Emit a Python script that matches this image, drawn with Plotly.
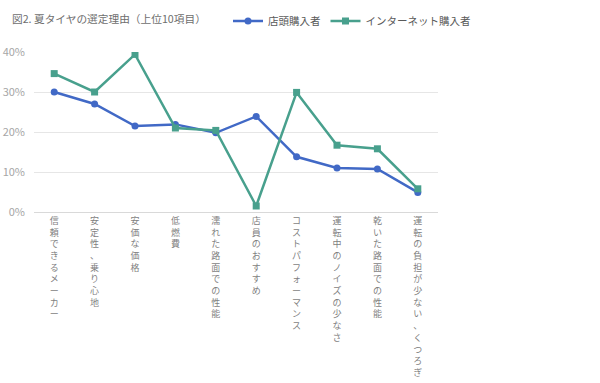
import plotly.graph_objects as go

categories = ["信頼できるメーカー", "安定性、乗り心地", "安価な価格", "低燃費", "濡れた路面での性能",
              "店員のおすすめ", "コストパフォーマンス", "運転中のノイズの少なさ", "乾いた路面での性能",
              "運転の負担が少ない、くつろぎ"]
store = [30.0, 27.0, 21.5, 21.9, 19.8, 23.9, 13.8, 11.0, 10.75, 4.9]
internet = [34.6, 30.0, 39.4, 21.0, 20.4, 1.5, 29.9, 16.7, 15.8, 5.8]
y_ticks = [0, 10, 20, 30, 40]
y_tick_labels = ["0%", "10%", "20%", "30%", "40%"]
title_text = "図2. 夏タイヤの選定理由（上位10項目）"

BLUE = "#4169C6"
GREEN = "#48A08D"
FONT = "Noto Sans CJK JP"

L, R, T, B = 34, 162, 52, 171
W, H = 600, 383
pw, ph = W - L - R, H - T - B

tick_text = ["<br>".join(list(c)) for c in categories]

fig = go.Figure()
fig.add_trace(go.Scatter(x=categories, y=store, name="店頭購入者", mode="lines+markers",
                         line=dict(color=BLUE, width=2.5),
                         marker=dict(symbol="circle", size=7, color=BLUE)))
fig.add_trace(go.Scatter(x=categories, y=internet, name="インターネット購入者", mode="lines+markers",
                         line=dict(color=GREEN, width=2.5),
                         marker=dict(symbol="square", size=7, color=GREEN)))

fig.update_layout(
    width=W, height=H,
    margin=dict(l=L, r=R, t=T, b=B, autoexpand=False),
    paper_bgcolor="white", plot_bgcolor="white",
    font=dict(family=FONT, color="#595959"),
    title=dict(text=title_text, x=12/W, xanchor="left", xref="container",
               y=1-19/H, yanchor="middle", yref="container",
               font=dict(family=FONT, size=10.7, color="#6E6E6E")),
    legend=dict(orientation="h", xref="paper", yref="paper",
                x=(228 - L)/pw, xanchor="left", y=1 + (T - 21)/ph, yanchor="middle",
                font=dict(family=FONT, size=10.5, color="#595959"),
                itemwidth=30, tracegroupgap=0, bgcolor="rgba(0,0,0,0)"),
    showlegend=True,
)
fig.update_xaxes(
    type="category", tickmode="array", tickvals=categories, ticktext=tick_text,
    tickangle=0, showgrid=False, showline=True, linecolor="#D9D9D9", linewidth=1,
    ticks="", tickfont=dict(family=FONT, size=9, color="#7F7F7F"), automargin=False,
    range=[-0.5, len(categories) - 0.5], fixedrange=True,
)
fig.update_yaxes(
    range=[0, 40], tickmode="array", tickvals=y_ticks, ticktext=y_tick_labels,
    showgrid=True, gridcolor="#E6E6E6", gridwidth=1, zeroline=False, automargin=False,
    showline=False, ticks="", ticklabelstandoff=8,
    tickfont=dict(family=FONT, size=11, color="#A6A6A6"), fixedrange=True,
)

fig.write_html("out.html", config={"displayModeBar": False},
               post_script="document.body.style.margin='0';document.body.style.overflow='hidden';")
